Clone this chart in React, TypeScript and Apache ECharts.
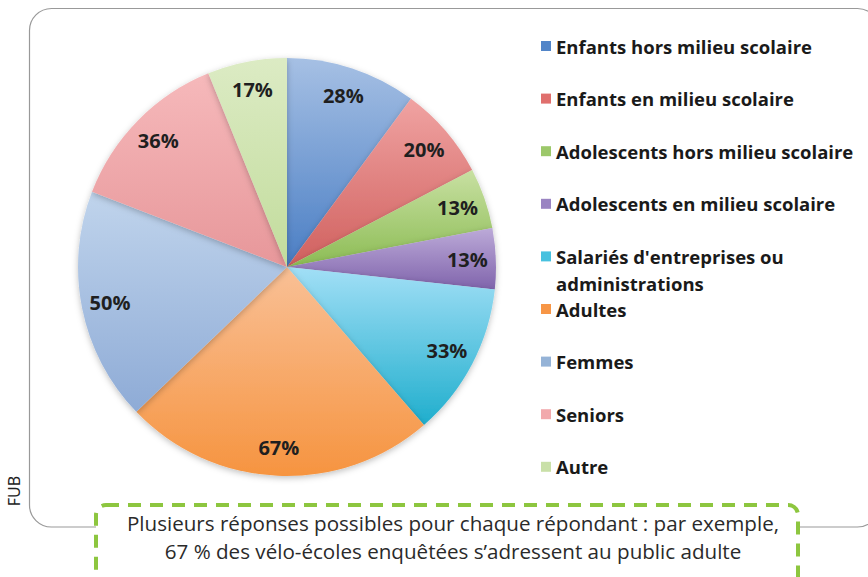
import React, { useEffect, useRef } from "react";
import * as echarts from "echarts";

const categories = [
  "Enfants hors milieu scolaire",
  "Enfants en milieu scolaire",
  "Adolescents hors milieu scolaire",
  "Adolescents en milieu scolaire",
  "Salariés d'entreprises ou",
  "Adultes",
  "Femmes",
  "Seniors",
  "Autre",
];
const values = [28, 20, 13, 13, 33, 67, 50, 36, 17];
const topColors = ["#A6C0E4", "#F0A3A2", "#C8E0A2", "#BCAAD8", "#A2DFF6", "#F9C096", "#C0D4EC", "#F6B9BB", "#DCEBC4"];
const bottomColors = ["#4A7EC4", "#D0605E", "#8CBC54", "#8064AC", "#1FAECD", "#F69440", "#8EABD6", "#E7979A", "#C2DC9C"];
const legendColors = ["#5285C8", "#E06F6D", "#9CC86A", "#9A84C2", "#47C1DF", "#F79646", "#95B3D7", "#F2A9AC", "#C9E0A8"];
const note = [
  "Plusieurs réponses possibles pour chaque répondant : par exemple,",
  "67 % des vélo-écoles enquêtées s’adressent au public adulte",
];

export default function App() {
  const ref = useRef<HTMLDivElement>(null);
  useEffect(() => {
    const chart = echarts.init(ref.current!, undefined, { renderer: "svg" });
    const pieData = categories.map((name, i) => ({
      name,
      value: values[i],
      itemStyle: {
        color: {
          type: "linear",
          x: 0, y: 0, x2: 0, y2: 1,
          colorStops: [
            { offset: 0, color: topColors[i] },
            { offset: 1, color: bottomColors[i] },
          ],
        },
      },
    }));
    const labelData = categories.map((name, i) => ({ name, value: values[i] }));
    const legendFont = {
      fontFamily: "Open Sans",
      fontWeight: "bold",
      fontSize: 18.5,
      color: "#1a1a1a",
    };
    chart.setOption({
      animation: false,
      legend: {
        orient: "vertical",
        left: 541,
        top: 36,
        padding: 0,
        itemWidth: 10,
        itemHeight: 10,
        itemGap: 32.6,
        icon: "rect",
        selectedMode: false,
        data: categories.map((name, i) => ({ name, itemStyle: { color: legendColors[i] } })),
        textStyle: { ...legendFont, height: 20, lineHeight: 20 },
      },
      graphic: [
        {
          type: "rect",
          shape: { x: 29.5, y: 8.5, width: 850, height: 518.5, r: 22 },
          style: { fill: "none", stroke: "#999999", lineWidth: 1.2 },
          z: -10,
        },
        {
          type: "rect",
          shape: { x: 96, y: 505, width: 702, height: 90, r: 10 },
          style: { fill: "#ffffff", stroke: "#8DC63F", lineWidth: 4, lineDash: [13, 9] },
          z: 10,
        },
        {
          type: "text",
          x: 453,
          y: 523,
          z: 11,
          style: {
            text: note[0],
            fontFamily: "Open Sans",
            fontSize: 20.6,
            fill: "#2a2a2a",
            textAlign: "center",
            textVerticalAlign: "middle",
          },
        },
        {
          type: "text",
          x: 453,
          y: 551,
          z: 11,
          style: {
            text: note[1],
            fontFamily: "Open Sans",
            fontSize: 20.6,
            fill: "#2a2a2a",
            textAlign: "center",
            textVerticalAlign: "middle",
          },
        },
        {
          type: "text",
          x: 14,
          y: 491,
          rotation: Math.PI / 2,
          style: {
            text: "FUB",
            fontFamily: "Noto Sans",
            fontSize: 16,
            fill: "#222222",
            textAlign: "center",
            textVerticalAlign: "middle",
          },
        },
        {
          type: "text",
          x: 556,
          y: 283,
          style: {
            text: "administrations",
            fontFamily: legendFont.fontFamily,
            fontWeight: "bold",
            fontSize: legendFont.fontSize,
            fill: legendFont.color,
            textVerticalAlign: "middle",
          },
        },
      ],
      series: [
        {
          type: "pie",
          center: [287, 267],
          radius: 209,
          startAngle: 90,
          clockwise: true,
          avoidLabelOverlap: false,
          label: { show: false },
          labelLine: { show: false },
          silent: true,
          itemStyle: {
            borderWidth: 0,
            shadowBlur: 6,
            shadowColor: "rgba(0,0,0,0.25)",
            shadowOffsetY: 2,
          },
          data: pieData,
        },
        {
          type: "pie",
          center: [287, 267],
          radius: [150, 205],
          startAngle: 90,
          clockwise: true,
          avoidLabelOverlap: false,
          silent: true,
          legendHoverLink: false,
          itemStyle: { color: "rgba(0,0,0,0)", borderWidth: 0 },
          labelLine: { show: false },
          label: {
            show: true,
            position: "inside",
            rotate: 0,
            formatter: "{c}%",
            fontFamily: "Open Sans",
            fontWeight: "bold",
            fontSize: 20,
            color: "#1f1f1f",
          },
          data: labelData,
        },
      ],
    });
    return () => chart.dispose();
  }, []);
  return (
    <div
      ref={ref}
      style={{ position: "absolute", left: 0, top: 0, width: 868, height: 577 }}
    />
  );
}
